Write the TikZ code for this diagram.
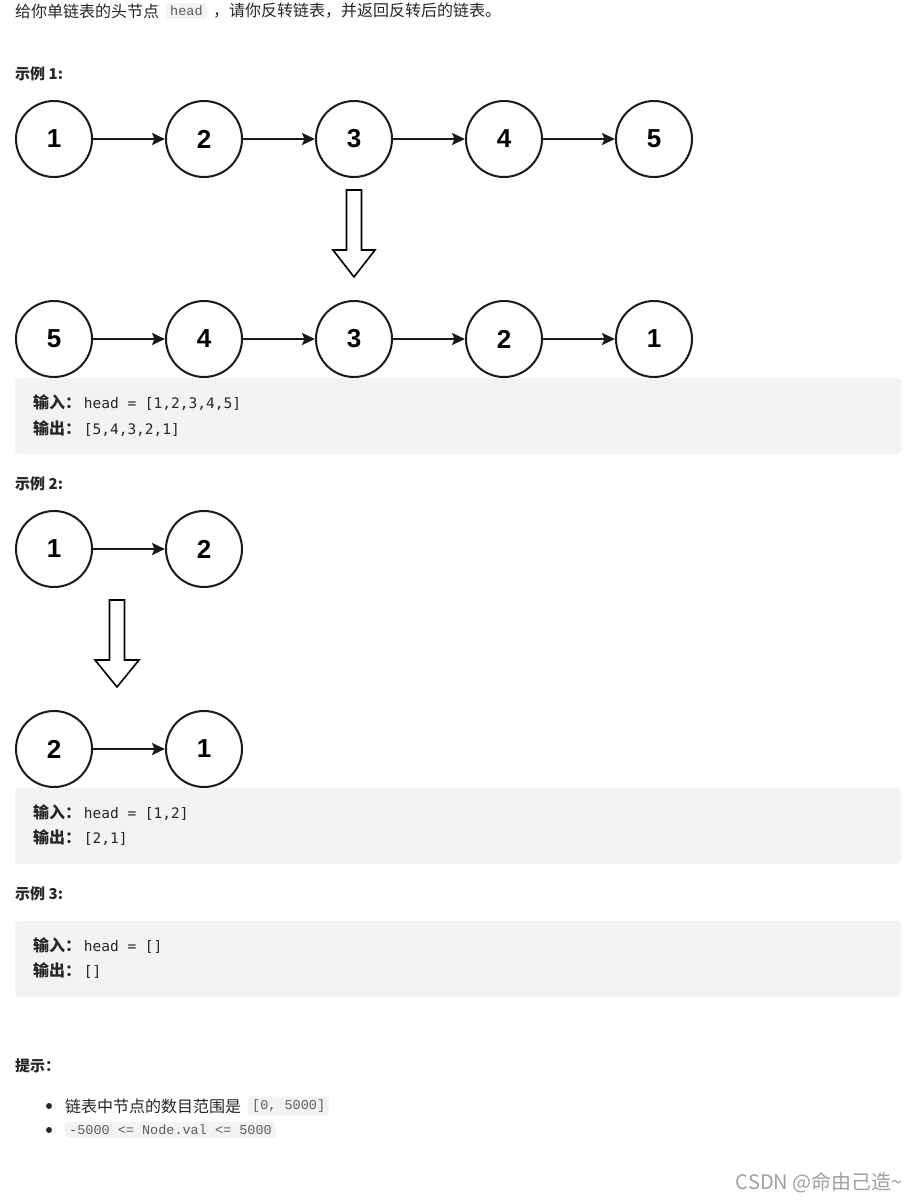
\documentclass[tikz,border=0pt]{standalone}
\usepackage{fontspec}
\setmainfont{Noto Sans CJK SC}
\newfontfamily\numfont{Liberation Sans}
\newfontfamily\codefont{DejaVu Sans Mono}
\newfontfamily\hintfont{Liberation Mono}
\usetikzlibrary{arrows.meta,positioning}
\definecolor{txt}{HTML}{262626}
\definecolor{codebg}{HTML}{F2F3F5}
\definecolor{codetxt}{HTML}{5C5C5C}
\definecolor{wm}{HTML}{A0A0A0}
\begin{document}
\begin{tikzpicture}[x=1pt,y=-1pt,
  circ/.style={circle,draw=black!90,line width=2pt,minimum size=76pt,inner sep=0pt,
    font=\numfont\bfseries\fontsize{26}{26}\selectfont},
  link/.style={line width=2pt,draw=black!90,-{Stealth[length=13pt,width=12pt,inset=2.5pt]}},
  hollow/.style={draw=black,line width=1.6pt,fill=white,line join=miter},
  body/.style={anchor=west,inner sep=0pt,text=txt,font=\fontsize{16}{18}\selectfont},
  lbl/.style={anchor=west,inner sep=0pt,text=txt,font=\bfseries\fontsize{15}{18}\selectfont},
  panel/.style={fill=codebg,rounded corners=4pt},
  boxtxt/.style={anchor=west,inner sep=0pt,text=txt,font=\fontsize{16}{18}\selectfont},
  inlinecode/.style={fill=codebg,rounded corners=3pt,inner xsep=4pt,inner ysep=3pt,
    text=codetxt,font=\hintfont\fontsize{13.5}{16}\selectfont},
  bullet/.style={circle,fill=txt,inner sep=0pt,minimum size=6pt}
]
\useasboundingbox (0,0) rectangle (917,1202);
\fill[white] (0,0) rectangle (917,1202);

% title
\node[body] (t1) at (15,11) {给你单链表的头节点};
\node[inlinecode,anchor=west] (t2) at (166,11) {head};
\node[body] (t3) at (213,11) {，请你反转链表，并返回反转后的链表。};

% Example 1
\node[lbl] (e1) at (15,74) {示例 1:};
\foreach \v [count=\i] in {1,2,3,4,5}
  \node[circ] (a\i) at ({54+150*(\i-1)},139) {\v};
\foreach \i/\j in {1/2,2/3,3/4,4/5}
  \draw[link] (a\i) -- (a\j);
\draw[hollow] (346.5,190) -- (361.5,190) -- (361.5,250) -- (375,250) -- (354,277)
  -- (333,250) -- (346.5,250) -- cycle;
\foreach \v [count=\i] in {5,4,3,2,1}
  \node[circ] (b\i) at ({54+150*(\i-1)},339) {\v};
\foreach \i/\j in {1/2,2/3,3/4,4/5}
  \draw[link] (b\i) -- (b\j);
\fill[panel] (15,378) rectangle (901,454);
\node[boxtxt] (p1a) at (33,403) {\textbf{输入：}\,{\codefont\fontsize{14.5}{18}\selectfont head = [1,2,3,4,5]}};
\node[boxtxt] (p1b) at (33,429) {\textbf{输出：}\,{\codefont\fontsize{14.5}{18}\selectfont [5,4,3,2,1]}};

% Example 2
\node[lbl] (e2) at (15,484) {示例 2:};
\node[circ] (c1) at (54,549) {1};
\node[circ] (c2) at (204,549) {2};
\draw[link] (c1) -- (c2);
\draw[hollow] (109.5,600) -- (124.5,600) -- (124.5,660) -- (139,660) -- (117,687)
  -- (95,660) -- (109.5,660) -- cycle;
\node[circ] (d1) at (54,749) {2};
\node[circ] (d2) at (204,749) {1};
\draw[link] (d1) -- (d2);
\fill[panel] (15,788) rectangle (901,864);
\node[boxtxt] (p2a) at (33,813) {\textbf{输入：}\,{\codefont\fontsize{14.5}{18}\selectfont head = [1,2]}};
\node[boxtxt] (p2b) at (33,838) {\textbf{输出：}\,{\codefont\fontsize{14.5}{18}\selectfont [2,1]}};

% Example 3
\node[lbl] (e3) at (15,894) {示例 3:};
\fill[panel] (15,921) rectangle (901,997);
\node[boxtxt] (p3a) at (33,946) {\textbf{输入：}\,{\codefont\fontsize{14.5}{18}\selectfont head = []}};
\node[boxtxt] (p3b) at (33,971) {\textbf{输出：}\,{\codefont\fontsize{14.5}{18}\selectfont []}};

% Hints
\node[lbl] (h0) at (15,1066) {提示：};
\node[bullet] (bu1) at (49,1106) {};
\node[body] (h1) at (65,1106) {链表中节点的数目范围是};
\node[inlinecode,anchor=west] (h1c) at (248,1106) {[0, 5000]};
\node[bullet] (bu2) at (49,1130) {};
\node[inlinecode,anchor=west] (h2c) at (65,1130) {-5000 <= Node.val <= 5000};

% watermark
\node[anchor=east,inner sep=0pt,text=wm,font=\fontsize{20}{22}\selectfont] (wmk) at (903,1183) {CSDN @命由己造\textasciitilde};
\end{tikzpicture}
\end{document}
